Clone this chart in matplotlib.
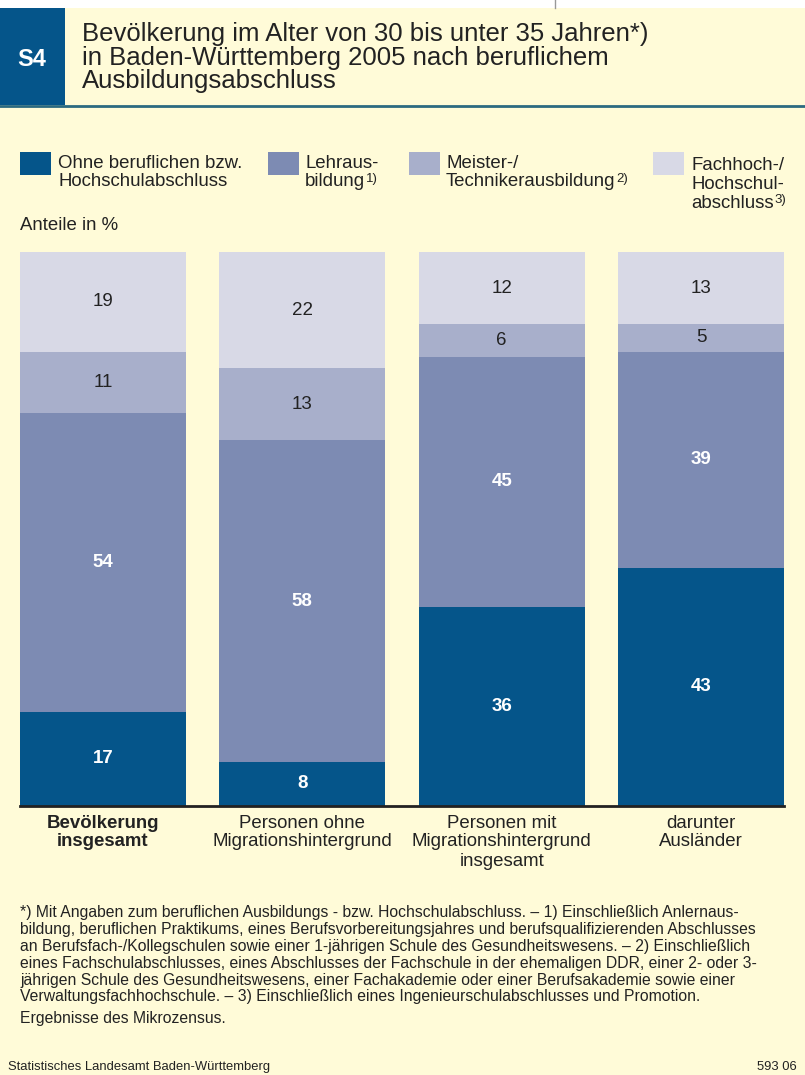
import numpy as np
import matplotlib.pyplot as plt
from matplotlib.patches import Rectangle

plt.rcParams['font.family'] = ['Liberation Sans', 'DejaVu Sans']

# data (Anteile in %)
categories = [['Bevölkerung', 'insgesamt'], ['Personen ohne', 'Migrationshintergrund'],
              ['Personen mit', 'Migrationshintergrund', 'insgesamt'], ['darunter', 'Ausländer']]
ohne = [17, 8, 36, 43]
lehre = [54, 58, 45, 39]
meister = [11, 13, 6, 5]
fachhoch = [19, 22, 12, 13]

series_names = [['Ohne beruflichen bzw.', 'Hochschulabschluss'], ['Lehraus-', 'bildung'],
                ['Meister-/', 'Technikerausbildung'], ['Fachhoch-/', 'Hochschul-', 'abschluss']]
series_notes = ['', '1)', '2)', '3)']
colors = ['#05558a', '#7d8bb3', '#a8afcb', '#d8d9e6']
label_colors = ['white', 'white', '#222222', '#222222']
label_weights = ['bold', 'bold', 'normal', 'normal']

BG = '#fffbd8'
TXT = '#222222'
W, H = 805, 1075

fig = plt.figure(figsize=(W / 100, H / 100), dpi=100)
fig.patch.set_facecolor(BG)


def px(x, y):
    return x / W, 1 - y / H


# header
fig.patches.append(Rectangle(px(0, 8), 1, 8 / H, transform=fig.transFigure,
                             facecolor='white', edgecolor='none'))
fig.lines.append(plt.Line2D([555 / W, 555 / W], [1, 1 - 8 / H], transform=fig.transFigure,
                            color='#999999', lw=1))
fig.patches.append(Rectangle(px(0, 105), 65 / W, 97 / H, transform=fig.transFigure,
                             facecolor='#05558a', edgecolor='none'))
fig.lines.append(plt.Line2D([0, 1], [1 - 106 / H] * 2, transform=fig.transFigure,
                            color='#2b6a80', lw=2))
fig.text(*px(32, 59), 'S4', color='white', fontsize=17, fontweight='bold',
         ha='center', va='center')
title_lines = ['Bevölkerung im Alter von 30 bis unter 35 Jahren*)',
               'in Baden-Württemberg 2005 nach beruflichem',
               'Ausbildungsabschluss']
for i, t in enumerate(title_lines):
    fig.text(*px(82, 34 + i * 23.5), t, fontsize=18.5, color=TXT, va='center')

# bars
ax = fig.add_axes([20 / W, 1 - 806 / H, 764 / W, 554 / H])
ax.set_facecolor(BG)

# legend
leg_x = [20, 268, 409, 653]
leg_tx = [58, 305, 446, 691]
leg_ty = [163, 163, 163, 166]
for i in range(4):
    fig.patches.append(Rectangle(px(leg_x[i], 175), 31 / W, 23 / H, transform=fig.transFigure,
                                 facecolor=colors[i], edgecolor='none'))
    t = None
    for j, line in enumerate(series_names[i]):
        t = fig.text(*px(leg_tx[i], leg_ty[i] + j * 18.5), line, fontsize=13.4, color=TXT,
                     va='center')
    if series_notes[i]:
        ax.annotate(series_notes[i], xy=(1, 1), xycoords=t, xytext=(0.5, 0.3),
                    textcoords='offset points', fontsize=9.5, color=TXT, va='top',
                    annotation_clip=False)

fig.text(*px(20, 226), 'Anteile in %', fontsize=13.4, color=TXT, va='center')

x = np.arange(len(categories))
bw = 166 / 199.3
series = [ohne, lehre, meister, fachhoch]
bottom = np.zeros(len(categories))
for i, vals in enumerate(series):
    vals = np.array(vals, dtype=float)
    h = vals if i < 3 else 100 - bottom
    ax.bar(x, h, bw, bottom=bottom, color=colors[i], edgecolor='none')
    for xi, b, hh, v in zip(x, bottom, h, vals):
        ax.text(xi, b + hh / 2, f'{int(v)}', ha='center', va='center', fontsize=13.5,
                color=label_colors[i], fontweight=label_weights[i])
    bottom = bottom + h

ax.set_xlim(-bw / 2, 3 + bw / 2)
ax.set_ylim(0, 100)
ax.set_xticks([])
ax.set_yticks([])
for s in ['top', 'right', 'left']:
    ax.spines[s].set_visible(False)
ax.spines['bottom'].set_color(TXT)
ax.spines['bottom'].set_linewidth(2)

# category labels below the bars
for i, lines in enumerate(categories):
    xc = ax.transData.transform((x[i], 0))[0] / W
    for j, line in enumerate(lines):
        fig.text(xc, 1 - (823 + j * 19) / H, line, ha='center', va='center', fontsize=13.4,
                 color=TXT, fontweight='bold' if i == 0 else 'normal')

# footnotes
foot = ['*) Mit Angaben zum beruflichen Ausbildungs - bzw. Hochschulabschluss. – 1) Einschließlich Anlernaus-',
        'bildung, beruflichen Praktikums, eines Berufsvorbereitungsjahres und berufsqualifizierenden Abschlusses',
        'an Berufsfach-/Kollegschulen sowie einer 1-jährigen Schule des Gesundheitswesens. – 2) Einschließlich',
        'eines Fachschulabschlusses, eines Abschlusses der Fachschule in der ehemaligen DDR, einer 2- oder 3-',
        'jährigen Schule des Gesundheitswesens, einer Fachakademie oder einer Berufsakademie sowie einer',
        'Verwaltungsfachhochschule. – 3) Einschließlich eines Ingenieurschulabschlusses und Promotion.']
for i, t in enumerate(foot):
    fig.text(*px(20, 913 + i * 16.8), t, fontsize=11.3, color=TXT, va='center')
fig.text(*px(20, 1018), 'Ergebnisse des Mikrozensus.', fontsize=11.3, color=TXT, va='center')

fig.text(*px(8, 1067), 'Statistisches Landesamt Baden-Württemberg', fontsize=9.4, color=TXT,
         va='center')
fig.text(*px(797, 1067), '593 06', fontsize=9.4, color=TXT, va='center', ha='right')

fig.savefig('out.png', dpi=100, facecolor=BG)
